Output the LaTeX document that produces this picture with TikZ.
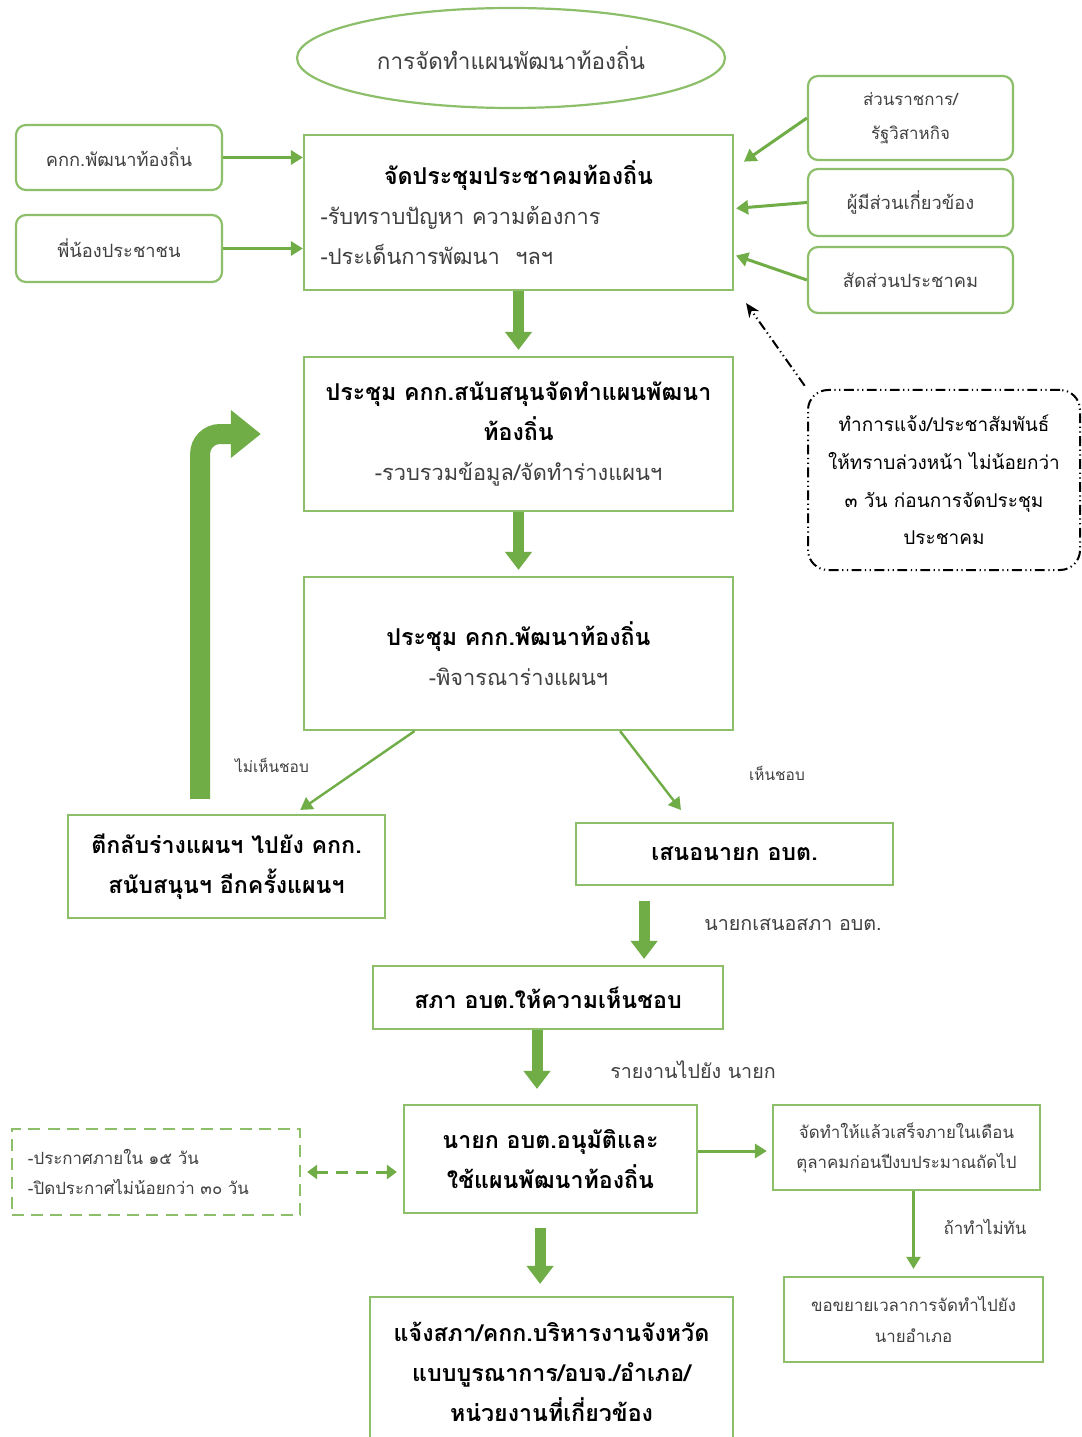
\documentclass[tikz,border=0pt]{standalone}
\usepackage{fontspec}
\setmainfont[Script=Thai]{Loma}
\usetikzlibrary{arrows.meta,shapes.geometric}
\definecolor{thgreen}{RGB}{112,173,71}
\definecolor{thedge}{RGB}{141,191,106}
\definecolor{thtext}{RGB}{64,64,64}
\newcommand{\headtxt}[1]{\textcolor{black}{\bfseries #1}}
\newcommand{\bodytxt}[1]{{\fontsize{15.5}{28.5}\selectfont #1}}

\begin{document}
\begin{tikzpicture}[x=0.25mm,y=-0.25mm,
  box/.style={draw=thedge,line width=0.55mm,align=center,inner sep=0pt,text=thtext},
  rbox/.style={box,rounded corners=2.5mm},
  big/.style={font=\fontsize{16.5}{28.5}\selectfont},
  small/.style={font=\fontsize{13}{24}\selectfont},
  tiny/.style={font=\fontsize{12}{21.5}\selectfont},
  lab/.style={font=\fontsize{11}{14}\selectfont,text=thtext,inner sep=1pt},
  flow/.style={-{Triangle[length=3mm,width=3.5mm]},line width=0.75mm,draw=thgreen,fill=thgreen},
  bigflow/.style={-{Triangle[length=4.5mm,width=6.5mm]},line width=2.75mm,draw=thgreen,fill=thgreen,shorten >=1.5mm},
  backflow/.style={-{Triangle[length=7.5mm,width=11.5mm]},line width=5mm,draw=thgreen,rounded corners=5mm},
  noteline/.style={black,line width=0.5mm,dash pattern=on 7pt off 2.5pt on 0.9pt off 2.5pt on 0.9pt off 2.5pt},
  noteflow/.style={noteline,-{Stealth[length=3.5mm,width=3mm]}},
  dashflow/.style={{Triangle[length=2.5mm,width=3.5mm]}-{Triangle[length=2.5mm,width=3.5mm]},line width=0.75mm,draw=thgreen,dash pattern=on 3mm off 2mm}]
\useasboundingbox[fill=white] (0,0) rectangle (1081,1437);

% top part
\node[ellipse,box,minimum width=107mm,minimum height=25mm,font=\fontsize{16}{20}\selectfont] (title) at (511,58) {การจัดทำแผนพัฒนาท้องถิ่น};
\node[rbox,small,minimum width=51.5mm,minimum height=16.25mm] (kkk) at (119,157.5) {คกก.พัฒนาท้องถิ่น};
\node[rbox,small,minimum width=51.5mm,minimum height=16.75mm] (people) at (119,248.5) {พี่น้องประชาชน};
\node[box,big,minimum width=107.25mm,minimum height=38.75mm,text width=99mm,align=left] (forum) at (518.5,212.5)
  {\makebox[\hsize]{\headtxt{จัดประชุมประชาคมท้องถิ่น}}\\\bodytxt{-รับทราบปัญหา ความต้องการ}\\\bodytxt{-ประเด็นการพัฒนา~~ฯลฯ}};
\node[rbox,minimum width=51.25mm,minimum height=21mm,font=\fontsize{12}{24}\selectfont] (gov) at (910.5,118) {ส่วนราชการ/\\รัฐวิสาหกิจ};
\node[rbox,small,minimum width=51.25mm,minimum height=16.75mm] (stake) at (910.5,202.5) {ผู้มีส่วนเกี่ยวข้อง};
\node[rbox,small,minimum width=51.25mm,minimum height=16.5mm] (share) at (910.5,280) {สัดส่วนประชาคม};

\draw[flow] (kkk) -- (kkk -| forum.west);
\draw[flow] (people) -- (people -| forum.west);
\draw[flow,shorten >=3mm] (gov.west) -- ([yshift=11mm]forum.east);
\draw[flow,shorten >=0.5mm] (stake.west) -- ([yshift=1mm]forum.east);
\draw[flow,shorten >=0.5mm] (share.west) -- ([yshift=-10.6mm]forum.east);

% notice
\node[box,noteline,rounded corners=5mm,minimum width=68mm,minimum height=45mm,font=\fontsize{13.5}{26.8}\selectfont] (notice) at (944,480)
  {ทำการแจ้ง/ประชาสัมพันธ์\\ให้ทราบล่วงหน้า ไม่น้อยกว่า\\๓ วัน ก่อนการจัดประชุม\\ประชาคม};
\draw[noteflow,shorten <=1mm] (notice.north west) -- ([xshift=3mm,yshift=-3mm]forum.south east);

% middle part
\node[box,big,minimum width=107.25mm,minimum height=38.5mm] (support) at (518.5,434)
  {\headtxt{ประชุม คกก.สนับสนุนจัดทำแผนพัฒนา}\\\headtxt{ท้องถิ่น}\\\bodytxt{-รวบรวมข้อมูล/จัดทำร่างแผนฯ}};
\node[box,big,minimum width=107.25mm,minimum height=38.25mm] (devcom) at (518.5,653.5)
  {\headtxt{ประชุม คกก.พัฒนาท้องถิ่น}\\\bodytxt{-พิจารณาร่างแผนฯ}};
\draw[bigflow] (forum.south) -- (support.north);
\draw[bigflow] (support.south) -- (devcom.north);

\node[box,big,minimum width=79.25mm,minimum height=25.75mm] (back) at (226.5,866.5)
  {\headtxt{ตีกลับร่างแผนฯ ไปยัง คกก.}\\\headtxt{สนับสนุนฯ อีกครั้งแผนฯ}};
\node[box,big,minimum width=79.25mm,minimum height=15.5mm] (propose) at (734.5,854) {\headtxt{เสนอนายก อบต.}};
\draw[flow,line width=0.6mm,shorten >=1.75mm] ([xshift=-26mm]devcom.south) -- ([xshift=17mm]back.north);
\draw[flow,line width=0.6mm,shorten >=3.75mm] ([xshift=25.4mm]devcom.south) -- ([xshift=-11.1mm]propose.north);
\node[lab] (nolab) at (272,765) {ไม่เห็นชอบ};
\node[lab] (yeslab) at (777,773) {เห็นชอบ};
\draw[backflow,shorten <=3.75mm,shorten >=10.5mm] ([xshift=-6.6mm]back.north) |- (support.west);

% lower part
\node[box,big,minimum width=87.5mm,minimum height=15.75mm] (council) at (548,997.5) {\headtxt{สภา อบต.ให้ความเห็นชอบ}};
\draw[bigflow,shorten <=3.75mm] ([xshift=-22.6mm]propose.south) -- ([xshift=-22.6mm]propose.south |- council.north);
\node[lab,font=\fontsize{14}{16}\selectfont] (tocouncil) at (793,925) {นายกเสนอสภา อบต.};

\node[box,big,minimum width=73.25mm,minimum height=27mm] (approve) at (550.5,1159)
  {\headtxt{นายก อบต.อนุมัติและ}\\\headtxt{ใช้แผนพัฒนาท้องถิ่น}};
\draw[bigflow,shorten >=3.75mm] ([xshift=-2.75mm]council.south) -- ([xshift=-2.75mm]council.south |- approve.north);
\node[lab,font=\fontsize{14}{16}\selectfont] (report) at (693,1070) {รายงานไปยัง นายก};

\node[box,tiny,dash pattern=on 3mm off 1.8mm,minimum width=72mm,minimum height=21.5mm,text width=64mm,align=left] (announce) at (156,1172)
  {-ประกาศภายใน ๑๕ วัน\\-ปิดประกาศไม่น้อยกว่า ๓๐ วัน};
\draw[dashflow,shorten <=1.5mm,shorten >=1.5mm] (announce.east) -- (announce.east -| approve.west);

\node[box,tiny,minimum width=66.75mm,minimum height=21.25mm] (deadline) at (906.5,1147.5)
  {จัดทำให้แล้วเสร็จภายในเดือน\\ตุลาคมก่อนปีงบประมาณถัดไป};
\draw[flow,shorten >=1.25mm] ([yshift=2mm]approve.east) -- ([yshift=2mm]approve.east -| deadline.west);

\node[box,tiny,minimum width=64.75mm,minimum height=21.25mm] (extend) at (913.5,1319.5)
  {ขอขยายเวลาการจัดทำไปยัง\\นายอำเภอ};
\draw[flow,line width=0.6mm,shorten >=1.75mm] (extend.north |- deadline.south) -- (extend.north);
\node[lab,font=\fontsize{12}{14}\selectfont] (late) at (985,1227) {ถ้าทำไม่ทัน};

\node[box,big,minimum width=90.75mm,minimum height=37.5mm] (inform) at (551.5,1372)
  {\headtxt{แจ้งสภา/คกก.บริหารงานจังหวัด}\\\headtxt{แบบบูรณาการ/อบจ./อำเภอ/}\\\headtxt{หน่วยงานที่เกี่ยวข้อง}};
\draw[bigflow,shorten <=3.5mm,shorten >=3mm] ([xshift=-2.6mm]approve.south) -- ([xshift=-2.6mm]approve.south |- inform.north);
\end{tikzpicture}
\end{document}
